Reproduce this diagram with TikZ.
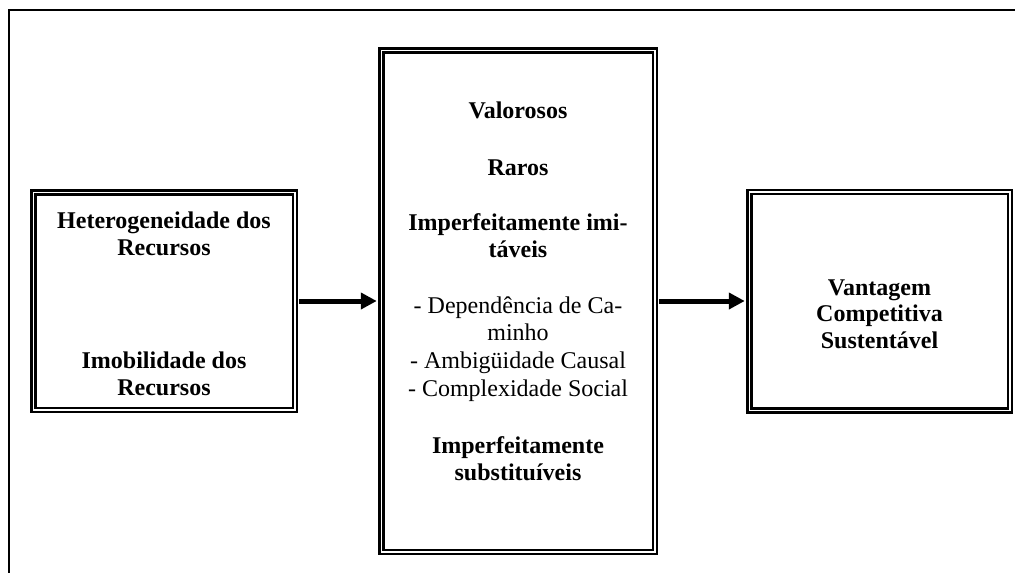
\documentclass[tikz,border=0pt]{standalone}
\usepackage{fontspec}
\setmainfont{Liberation Serif}
\usetikzlibrary{arrows.meta}
\begin{document}
\begin{tikzpicture}[x=1pt,y=-1pt,
  box/.style={draw, double, line width=2.5pt, double distance=1.5pt, inner sep=0pt},
  conn/.style={line width=5pt, -{Triangle[length=16pt,width=16pt]},
               shorten <=3.25pt, shorten >=3.25pt},
  head/.style={font=\bfseries\fontsize{24}{27}\selectfont, anchor=base, inner sep=0pt},
  item/.style={font=\fontsize{24}{27}\selectfont, anchor=base, inner sep=0pt}]
\useasboundingbox (0,0) rectangle (1015,573);

% surrounding frame (runs off the page to the right and bottom)
\draw[line width=1.5pt] (9,590) -- (9,10) -- (1030,10);

% the three boxes
\node[box, minimum width=261.5pt, minimum height=217.5pt] (res)  at (164,301)   {};
\node[box, minimum width=273.5pt, minimum height=501.5pt] (attr) at (518,301)   {};
\node[box, minimum width=260.5pt, minimum height=218.5pt] (vcs)  at (879.5,301) {};

% connectors
\draw[conn] (res.east) -- (attr.west);
\draw[conn] (attr.east) -- (vcs.west);

% resource conditions
\node[head] (r1) at (164,228) {Heterogeneidade dos};
\node[head] (r2) at (164,255) {Recursos};
\node[head] (r3) at (164,368) {Imobilidade dos};
\node[head] (r4) at (164,395) {Recursos};

% resource attributes
\node[head] (a1) at (518,118) {Valorosos};
\node[head] (a2) at (518,175) {Raros};
\node[head] (a3) at (518,230) {Imperfeitamente imi-};
\node[head] (a4) at (518,257) {táveis};
\node[item] (a5) at (518,313) {- Dependência de Ca-};
\node[item] (a6) at (518,340) {minho};
\node[item] (a7) at (518,368) {- Ambigüidade Causal};
\node[item] (a8) at (518,396) {- Complexidade Social};
\node[head] (a9) at (518,453) {Imperfeitamente};
\node[head] (a10) at (518,480) {substituíveis};

% outcome
\node[head] (v1) at (879.5,295) {Vantagem};
\node[head] (v2) at (879.5,321) {Competitiva};
\node[head] (v3) at (879.5,348) {Sustentável};
\end{tikzpicture}
\end{document}
